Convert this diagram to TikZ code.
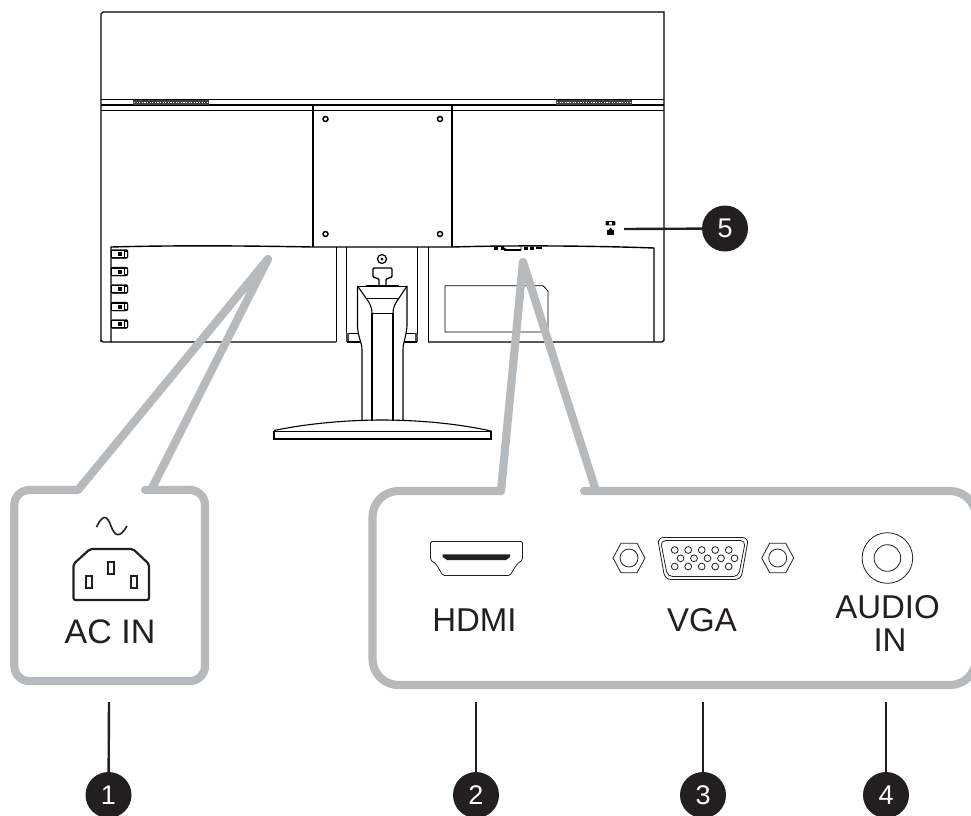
\documentclass[tikz,border=0pt]{standalone}
\usepackage{fontspec}
\setmainfont{Liberation Sans}
\definecolor{callgray}{HTML}{B7BABD}
\definecolor{badge}{HTML}{231F20}
\tikzset{
  thin ink/.style={draw=black,line width=0.9pt},
  neck ink/.style={draw=black,line width=1.1pt},
  mid ink/.style={draw=black,line width=1.4pt},
  icon/.style={draw=badge,line width=0.8pt},
  callout/.style={draw=callgray,line width=8.2pt,line join=round},
  badge node/.style={circle,fill=badge,text=white,minimum size=46pt,inner sep=0pt,font=\fontsize{27}{27}\selectfont},
  leader/.style={draw=badge,line width=2.4pt},
  label text/.style={text=badge,inner sep=0pt,font=\fontsize{33}{33}\selectfont,align=center},
  screw/.style={circle,draw=black,line width=1.5pt,fill=white,minimum size=5pt,inner sep=0pt},
}
\begin{document}
\begin{tikzpicture}[x=1pt,y=-1pt]
\useasboundingbox (0,0) rectangle (971,815);
\clip (0,0) rectangle (971,815);
% monitor
\draw[mid ink] (101,342) -- (101,14) -- (103,12) -- (664,12) -- (664,340) -- (662,342) -- (428,342);
\draw[mid ink] (336,342) -- (103,342) -- (101,340);
\draw[thin ink] (101,99) -- (664,99);
\draw[mid ink] (101,105) -- (664,105);
\draw[thin ink] (101,110) -- (664,110);
\draw[mid ink] (313,105) -- (313,247);
\draw[mid ink] (452,105) -- (452,247);
\draw[mid ink] (111,342) -- (111,247) .. controls (180,245) and (260,246) .. (313,247) -- (452,247) .. controls (520,245) and (600,246) .. (654,248) -- (654,342);
% vents
\foreach \vx in {133,556}{
  \fill[black!75] (\vx,100) rectangle ++(76,5);
  \draw[white,line width=0.5pt,dash pattern=on 1.2pt off 1.4pt] (\vx+1,102.2) -- ++(74,0);
}
% screws
\node[screw] (s1) at (325.5,119) {};
\node[screw] (s2) at (440,119) {};
\node[screw] (s3) at (325.5,234) {};
\node[screw] (s4) at (440,234) {};
% side buttons
\foreach \by in {254,271.5,289,306.5,324}{
  \draw[rounded corners=2pt,fill=black,draw=black] (111,\by-4.5) rectangle (128,\by+4.5);
  \fill[white] (112,\by-3) rectangle (124,\by+3);
  \fill[white] (124.5,\by-2.5) rectangle (126.5,\by+2.5);
  \fill[black] (118,\by-2) -- (122,\by-2) -- (122,\by+2) -- (118,\by+2) -- cycle;
}
% stand bay
\draw[thin ink] (336.7,247) -- (336.7,342);
\draw[mid ink] (346.7,247) -- (346.7,342);
\draw[mid ink] (417.3,247) -- (417.3,342);
\draw[thin ink] (428,247) -- (428,342);
\draw[thin ink] (347,333) -- (359,333);
\draw[thin ink] (406,333) -- (417,333);
\fill[black!70] (346,333) rectangle (349,342);
\fill[black!70] (415,333) rectangle (418,342);
\draw[mid ink] (346.7,342) -- (361,342);
\draw[mid ink] (404,342) -- (417.3,342);
% neck
\draw[neck ink] (357.5,286) -- (366,298) .. controls (370,303) and (372,308) .. (372,313);
\draw[neck ink] (407,286) -- (399,298) .. controls (395,303) and (393,308) .. (393,313);
\draw[thin ink] (357.5,286) -- (407,286);
\draw[thin ink] (366,298) -- (399,298);
\draw[thin ink] (372,313) -- (393,313);
\draw[neck ink] (357.5,286) -- (357.5,326) .. controls (358,338) and (362,342) .. (362,350) -- (362,421);
\draw[neck ink] (407,286) -- (407,326) .. controls (406,338) and (403,342) .. (403,350) -- (403,421);
\draw[neck ink] (372,313) -- (372,421);
\draw[neck ink] (393,313) -- (393,421);
% cable clip
\node[circle,draw=black,line width=1.2pt,minimum size=9pt,inner sep=0pt,fill=white] (clipscrew) at (382,259) {};
\node[circle,fill=black,minimum size=3pt,inner sep=0pt] (clipdot) at (382,259) {};
\draw[mid ink,rounded corners=1pt] (379,285) -- (379,279) -- (373,277) -- (373,268) -- (392,268) -- (392,277) -- (386,279) -- (386,285);
\draw[thin ink] (366,285) -- (399,285);
% base
\draw[mid ink] (274,431) -- (274,439) -- (491,439) -- (491,431);
\draw[neck ink] (274,430.5) .. controls (310,423) and (350,420) .. (382,420) .. controls (420,420) and (460,424) .. (491,431);
\draw[thin ink] (274,431) -- (491,431);
\draw[mid ink] (273,438.5) -- (492,438.5);
% label plate
\draw[thin ink] (445,285.7) -- (543,285.7) -- (548,291) -- (548,332) -- (445,332) -- cycle;
% rear ports strip
\fill[black] (494,247) rectangle (498,250);
\fill[black] (501,247) rectangle (504,250);
\draw[thin ink] (504,248) -- (507,250) -- (521,250) -- (521,247);
\draw[mid ink] (504,250) -- (521,250);
\fill[black] (524,247) rectangle (528,250);
\fill[black] (530,247) rectangle (534,250);
\fill[black] (536,246.5) rectangle (542,248.5);
% lock
\draw[black,line width=0.8pt,fill=white,rounded corners=0.5pt] (606,221.5) rectangle (615,225);
\fill[black] (606,221.5) rectangle (609,225);
\fill[black] (612,221.5) rectangle (615,225);
\fill[black] (607,235) rectangle (614,230);
\fill[black] (608.5,230) -- (610.5,227.5) -- (612.5,230) -- cycle;
% callouts
\draw[callout] (268,259) -- (78,490) -- (70,490) [rounded corners=15pt] -- (14.3,490) -- (14.3,681) -- (205,681) -- (205,490) -- (160,490) [sharp corners] -- (151,490) -- cycle;
\draw[callout] (523,262) -- (501,491) -- (490,491) [rounded corners=26pt] -- (372.5,491) -- (372.5,685) -- (976,685) -- (976,491) -- (610,491) [sharp corners] -- (596,491) -- cycle;
% AC icon
\draw[draw=badge,line width=1.6pt] (96.5,527) .. controls (103,514) and (107,515) .. (111,526) .. controls (115,537) and (120,538) .. (127,526);
\draw[draw=badge,line width=2.2pt,rounded corners=2pt] (90,549) -- (133,549) -- (149,564) -- (149,600) -- (73.5,600) -- (73.5,564) -- cycle;
\foreach \px/\py in {89/581.7,111/568,134/581.7}{
  \draw[draw=badge,line width=1.9pt] (\px-2.8,\py-6) rectangle (\px+2.8,\py+6);
}
\node[label text,font=\fontsize{34}{34}\selectfont] (acin) at (110,631.3) {AC IN};
% HDMI icon
\draw[icon,line join=round,rounded corners=1.5pt] (430.5,541.5) -- (522.5,541.5) -- (522.5,560) -- (517,564) -- (510,575.5) -- (443,575.5) -- (436,564) -- (430.5,560) -- cycle;
\fill[badge] (442.7,554.3) -- (510,554.3) -- (510,557) -- (506,560) -- (447,560) -- (442.7,557) -- cycle;
\node[label text] (hdmi) at (474.5,620) {HDMI};
% VGA icon
\foreach \hx in {629,777.7}{
  \draw[icon] (\hx-16,558) -- (\hx-8,543.2) -- (\hx+8,543.2) -- (\hx+16,558) -- (\hx+8,572.8) -- (\hx-8,572.8) -- cycle;
  \draw[icon] (\hx,558) circle (9);
}
\draw[icon,rounded corners=6pt] (657.5,537.5) -- (748.5,537.5) -- (741,579.5) -- (665,579.5) -- cycle;
\draw[icon,rounded corners=5pt] (660.5,540.5) -- (745.5,540.5) -- (738.5,576.5) -- (667.5,576.5) -- cycle;
\foreach \i in {0,...,4}{
  \draw[icon] (674.7+13.5*\i,550) circle (3.4);
  \draw[icon] (674.7+13.5*\i,566.5) circle (3.4);
  \draw[icon] (680.5+13.5*\i,558.3) circle (3.4);
}
\node[label text] (vga) at (702,620) {VGA};
% audio icon
\draw[icon] (887.4,558) circle (25.3);
\draw[icon] (887.4,558) circle (13.3);
\node[label text] (audio) at (887.5,623.5) {AUDIO\\\hspace*{5pt}IN};
% badges and leaders
\node[badge node] (b1) at (108.5,795) {1};
\node[badge node] (b2) at (476,795) {2};
\node[badge node] (b3) at (703,795) {3};
\node[badge node] (b4) at (886,795) {4};
\node[badge node] (b5) at (725,228.5) {5};
\coordinate (t1) at (109,702);
\coordinate (t2) at (476,702);
\coordinate (t3) at (703,702);
\coordinate (t4) at (886,702);
\coordinate (t5) at (624,229);
\draw[leader] (t1) -- (b1);
\draw[leader] (t2) -- (b2);
\draw[leader] (t3) -- (b3);
\draw[leader] (t4) -- (b4);
\draw[leader] (t5) -- (b5);
\end{tikzpicture}
\end{document}
